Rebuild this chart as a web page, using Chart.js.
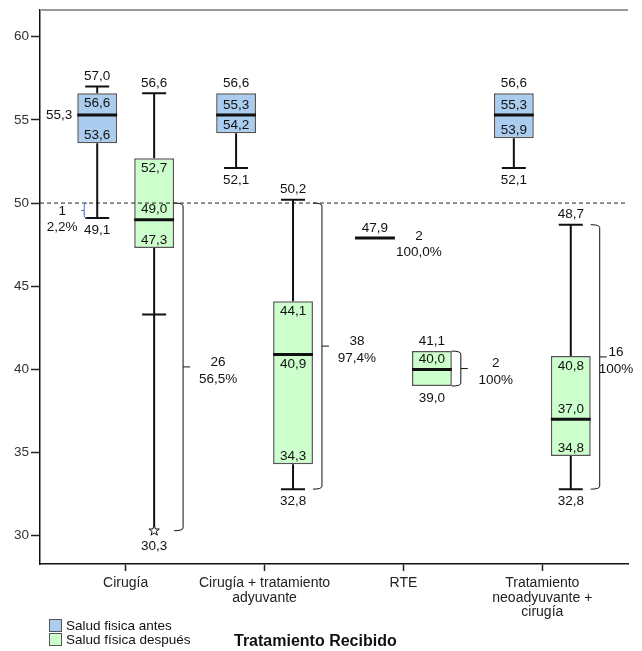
<!DOCTYPE html>
<html>
<head>
<meta charset="utf-8">
<script src="https://cdn.jsdelivr.net/npm/chart.js@4"></script>
<style>
  body { margin: 0; background: #fff; }
</style>
</head>
<body>
<canvas id="grafico" width="642" height="651"></canvas>
<script>
// Salud física antes / después según tratamiento

const categorias = ['Cirugía', ['Cirugía + tratamiento', 'adyuvante'], 'RTE', ['Tratamiento', 'neoadyuvante +', 'cirugía']];

// Salud física antes
const antesMin = [49.1, 52.1, 47.9, 52.1];
const antesQ1 = [53.6, 54.2, 47.9, 53.9];
const antesMed = [55.3, 55.3, 47.9, 55.3];
const antesQ3 = [56.6, 56.6, 47.9, 56.6];
const antesMax = [57.0, 56.6, 47.9, 56.6];
const antesExtremos = [null, null, null, null];
const antesN = [1, null, 2, null];
const antesPct = ['2,2%', null, '100,0%', null];

// Salud física después
const despuesMin = [43.3, 32.8, 39.0, 32.8];
const despuesQ1 = [47.3, 34.3, 39.0, 34.8];
const despuesMed = [49.0, 40.9, 40.0, 37.0];
const despuesQ3 = [52.7, 44.1, 41.1, 40.8];
const despuesMax = [56.6, 50.2, 41.1, 48.7];
const despuesExtremos = [30.3, null, null, null];
const despuesN = [26, 38, 2, 16];
const despuesPct = ['56,5%', '97,4%', '100%', '100%'];

const corte = 50;
const yTicks = [30, 35, 40, 45, 50, 55, 60];

// donde va la etiqueta de la mediana
const antesPosMed = ['left', 'above', 'above', 'above'];
const despuesPosMed = ['above', 'below', 'above', 'above'];

const fuente = '"Liberation Sans", Arial, sans-serif';
const fmt = v => v.toFixed(1).replace('.', ',');

const cajasPlugin = {
    id: 'cajas',
    beforeDatasetsDraw(chart) {
        const { ctx, chartArea } = chart;
        // borde superior gris
        ctx.save();
        ctx.strokeStyle = '#999';
        ctx.lineWidth = 2;
        ctx.beginPath();
        ctx.moveTo(chartArea.left, chartArea.top);
        ctx.lineTo(chartArea.right, chartArea.top);
        ctx.stroke();
        ctx.restore();
    },
    afterDatasetsDraw(chart) {
        const { ctx, chartArea } = chart;
        const y = chart.scales.y;
        const series = [
            { meta: chart.getDatasetMeta(0), min: antesMin, q1: antesQ1, med: antesMed, q3: antesQ3, max: antesMax, ext: antesExtremos, pos: antesPosMed, n: antesN, pct: antesPct, lado: 'izq' },
            { meta: chart.getDatasetMeta(1), min: despuesMin, q1: despuesQ1, med: despuesMed, q3: despuesQ3, max: despuesMax, ext: despuesExtremos, pos: despuesPosMed, n: despuesN, pct: despuesPct, lado: 'der' }
        ];

        ctx.save();

        // linea de corte
        const yc = y.getPixelForValue(corte);
        ctx.strokeStyle = '#222';
        ctx.lineWidth = 1;
        ctx.setLineDash([4, 3]);
        ctx.beginPath();
        ctx.moveTo(chartArea.left, yc);
        ctx.lineTo(chartArea.right, yc);
        ctx.stroke();
        ctx.setLineDash([]);

        series.forEach(s => {
            s.meta.data.forEach((bar, i) => {
                const cx = bar.x;
                const w = bar.width;
                const cap = 12;
                const min = s.min[i], q1 = s.q1[i], med = s.med[i], q3 = s.q3[i], max = s.max[i];
                const ext = s.ext[i];
                const low = ext != null ? ext : min;

                // bigotes
                ctx.strokeStyle = '#111';
                ctx.lineWidth = 2;
                ctx.beginPath();
                if (max > q3) {
                    ctx.moveTo(cx, y.getPixelForValue(q3));
                    ctx.lineTo(cx, y.getPixelForValue(max));
                    ctx.moveTo(cx - cap, y.getPixelForValue(max));
                    ctx.lineTo(cx + cap, y.getPixelForValue(max));
                }
                if (low < q1) {
                    ctx.moveTo(cx, y.getPixelForValue(q1));
                    ctx.lineTo(cx, y.getPixelForValue(low));
                    ctx.moveTo(cx - cap, y.getPixelForValue(min));
                    ctx.lineTo(cx + cap, y.getPixelForValue(min));
                }
                ctx.stroke();

                // mediana
                ctx.lineWidth = 3;
                ctx.beginPath();
                ctx.moveTo(cx - w / 2, y.getPixelForValue(med));
                ctx.lineTo(cx + w / 2, y.getPixelForValue(med));
                ctx.stroke();

                // extremo (estrella)
                if (ext != null) {
                    const ye = y.getPixelForValue(ext);
                    ctx.lineWidth = 1;
                    ctx.beginPath();
                    for (let k = 0; k < 10; k++) {
                        const r = k % 2 === 0 ? 5.5 : 2.2;
                        const a = -Math.PI / 2 + k * Math.PI / 5;
                        const px = cx + r * Math.cos(a), py = ye + r * Math.sin(a);
                        if (k === 0) ctx.moveTo(px, py); else ctx.lineTo(px, py);
                    }
                    ctx.closePath();
                    ctx.fillStyle = '#fff';
                    ctx.fill();
                    ctx.stroke();
                }

                // etiquetas de valores
                ctx.fillStyle = '#111';
                ctx.font = '13.5px ' + fuente;
                ctx.textAlign = 'center';
                ctx.textBaseline = 'middle';
                ctx.fillText(fmt(max), cx, y.getPixelForValue(max) - 10);
                if (q3 < max && q3 > med) {
                    ctx.fillText(fmt(q3), cx, y.getPixelForValue(q3) + 10);
                }
                if (med < max) {
                    const ym = y.getPixelForValue(med);
                    if (s.pos[i] === 'left') {
                        ctx.textAlign = 'right';
                        ctx.fillText(fmt(med), cx - w / 2 - 5, ym);
                        ctx.textAlign = 'center';
                    } else if (s.pos[i] === 'below') {
                        ctx.fillText(fmt(med), cx, ym + 10);
                    } else {
                        ctx.fillText(fmt(med), cx, ym - 10);
                    }
                }
                if (q1 > low && q1 < med) {
                    ctx.fillText(fmt(q1), cx, y.getPixelForValue(q1) - 8);
                }
                if (low < med) {
                    ctx.fillText(fmt(low), cx, y.getPixelForValue(low) + (ext != null ? 16 : 12));
                }

                // llaves con n y porcentaje bajo el corte
                if (s.n[i] == null) return;
                const top = Math.min(corte, max);
                const yTop = y.getPixelForValue(top);
                const yBot = y.getPixelForValue(low);
                const yMid = (yTop + yBot) / 2;
                ctx.lineWidth = 1;
                if (s.lado === 'der') {
                    const bx = cx + w / 2 + 9;
                    ctx.strokeStyle = '#111';
                    ctx.beginPath();
                    ctx.moveTo(bx - 9, yTop);
                    ctx.quadraticCurveTo(bx, yTop, bx, yTop + 3);
                    ctx.lineTo(bx, yBot - 3);
                    ctx.quadraticCurveTo(bx, yBot, bx - 9, yBot);
                    ctx.moveTo(bx, yMid);
                    ctx.lineTo(bx + 7, yMid);
                    ctx.stroke();
                    const tx = Math.min(bx + 35, chartArea.right - 12);
                    ctx.fillText(String(s.n[i]), tx, yMid - 5);
                    ctx.fillText(s.pct[i], tx, yMid + 12);
                } else if (yBot > yTop + 1) {
                    const bx = cx - 13;
                    ctx.strokeStyle = '#3a6fc8';
                    ctx.beginPath();
                    ctx.moveTo(bx + 3, yTop);
                    ctx.quadraticCurveTo(bx, yTop, bx, yTop + 2);
                    ctx.lineTo(bx, yBot - 2);
                    ctx.quadraticCurveTo(bx, yBot, bx + 3, yBot);
                    ctx.moveTo(bx, yMid);
                    ctx.lineTo(bx - 3, yMid);
                    ctx.stroke();
                    ctx.fillText(String(s.n[i]), bx - 22, yMid + 1);
                    ctx.fillText(s.pct[i], bx - 22, yMid + 17);
                } else {
                    const yv = y.getPixelForValue(med);
                    ctx.fillText(String(s.n[i]), cx + 44, yv - 2);
                    ctx.fillText(s.pct[i], cx + 44, yv + 14);
                }
            });
        });
        ctx.restore();
    },
    afterDraw(chart) {
        const { ctx } = chart;
        ctx.save();
        // leyenda
        chart.data.datasets.forEach((ds, i) => {
            const ly = 619 + i * 14;
            ctx.fillStyle = ds.backgroundColor;
            ctx.strokeStyle = '#555';
            ctx.lineWidth = 1;
            ctx.fillRect(49.5, ly + 0.5, 12, 12);
            ctx.strokeRect(49.5, ly + 0.5, 12, 12);
            ctx.fillStyle = '#111';
            ctx.font = '13.5px ' + fuente;
            ctx.textAlign = 'left';
            ctx.textBaseline = 'middle';
            ctx.fillText(ds.label, 66, ly + 7);
        });
        // titulo del eje
        ctx.font = 'bold 16px ' + fuente;
        ctx.textAlign = 'left';
        ctx.textBaseline = 'middle';
        ctx.fillStyle = '#111';
        ctx.fillText('Tratamiento Recibido', 234, 642);
        ctx.restore();
    }
};

document.addEventListener('DOMContentLoaded', () => {
    const ctx = document.getElementById('grafico').getContext('2d');

    new Chart(ctx, {
        type: 'bar',
        data: {
            datasets: [{
                label: 'Salud fisica antes',
                data: antesQ1.map((v, i) => ({ x: i, y: [v, antesQ3[i]] })),
                backgroundColor: '#aaccee',
                borderColor: '#555',
                borderWidth: 1.5,
                borderSkipped: false,
                categoryPercentage: 0.82,
                barPercentage: 0.70
            }, {
                label: 'Salud física después',
                data: despuesQ1.map((v, i) => ({ x: i, y: [v, despuesQ3[i]] })),
                backgroundColor: '#ccffcc',
                borderColor: '#555',
                borderWidth: 1.5,
                borderSkipped: false,
                categoryPercentage: 0.82,
                barPercentage: 0.70
            }]
        },
        options: {
            responsive: false,
            animation: false,
            layout: { padding: { top: 10, right: 14, left: 0, bottom: 0 } },
            plugins: {
                legend: { display: false },
                tooltip: { enabled: false }
            },
            scales: {
                x: {
                    type: 'linear',
                    min: -0.617,
                    max: 3.617,
                    offset: false,
                    afterBuildTicks: scale => { scale.ticks = categorias.map((c, i) => ({ value: i })); },
                    afterFit: scale => { scale.height = 87; },
                    ticks: {
                        callback: value => categorias[value],
                        autoSkip: false,
                        maxRotation: 0,
                        padding: 5,
                        color: '#222',
                        font: { family: fuente, size: 14, lineHeight: 1.04 }
                    },
                    grid: { drawOnChartArea: false, drawTicks: true, tickLength: 7, tickColor: '#222', tickWidth: 1.5, offset: false },
                    border: { display: true, color: '#111', width: 1.5 }
                },
                y: {
                    min: 28.3,
                    max: 61.6,
                    afterBuildTicks: scale => { scale.ticks = yTicks.map(v => ({ value: v })); },
                    afterFit: scale => { scale.width = 40; },
                    ticks: {
                        padding: 2,
                        color: '#333',
                        font: { family: fuente, size: 13.5 }
                    },
                    grid: { drawOnChartArea: false, drawTicks: true, tickLength: 9, tickColor: '#222', tickWidth: 1.5 },
                    border: { display: true, color: '#111', width: 1.5 }
                }
            }
        },
        plugins: [cajasPlugin]
    });
});
</script>
</body>
</html>
